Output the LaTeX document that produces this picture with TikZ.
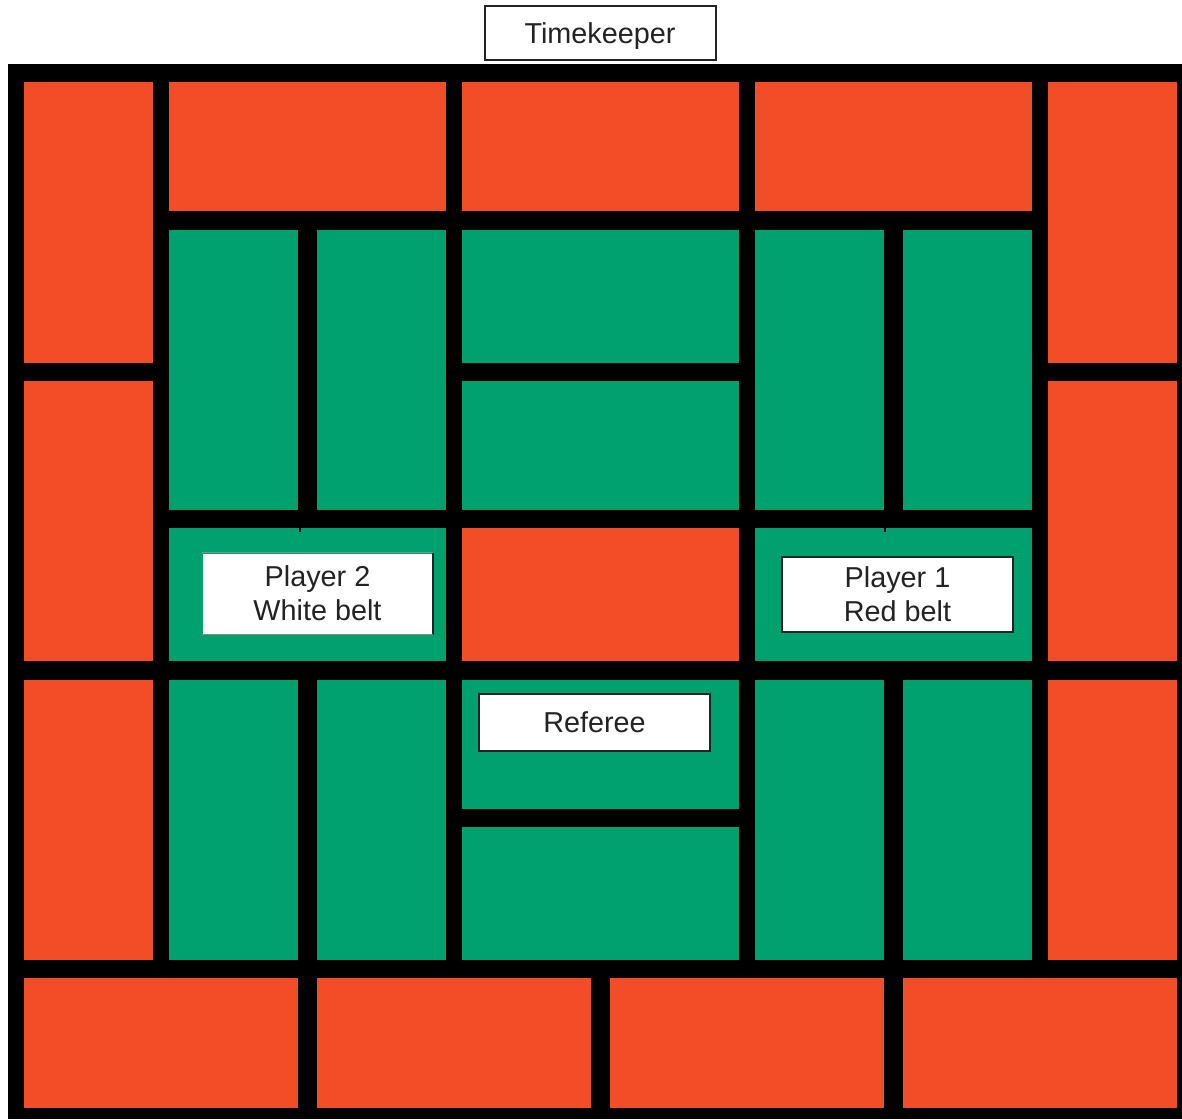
\documentclass[tikz,border=0pt]{standalone}
\usepackage{fontspec}
\setmainfont{Liberation Sans}

\definecolor{matred}{RGB}{241,78,39}
\definecolor{matgreen}{RGB}{0,161,110}
\definecolor{inkgray}{RGB}{35,35,35}

\begin{document}
\begin{tikzpicture}[x=0.5pt,y=-0.5pt,
    tag/.style={fill=white, draw=inkgray, line width=1pt, inner sep=0pt,
      align=center, text=inkgray, minimum width=115.5pt,
      font=\fontsize{14.4}{17}\selectfont}]
    \useasboundingbox (0,0) rectangle (1182,1119);
    % mat frame
    \fill[black] (8,64) rectangle (1182,1119);
    % outer ring of red tiles
    \foreach \a/\b/\c/\d in {24/82/153/363, 24/381/153/661, 24/680/153/960,
        169/82/446/211, 462/82/739/211, 755/82/1032/211,
        1048/82/1177/363, 1048/381/1177/661, 1048/680/1177/960,
        24/978/298/1108, 317/978/591/1108, 610/978/884/1108, 903/978/1177/1108,
        462/528/739/661}
        {\fill[matred] (\a,\b) rectangle (\c,\d);}
    % green contest area
    \foreach \a/\b/\c/\d in {169/230/298/510, 317/230/446/510,
        462/230/739/363, 462/381/739/510,
        755/230/884/510, 903/230/1032/510,
        169/528/446/661, 755/528/1032/661,
        169/680/298/960, 317/680/446/960,
        462/680/739/809, 462/827/739/960,
        755/680/884/960, 903/680/1032/960}
        {\fill[matgreen] (\a,\b) rectangle (\c,\d);}
    \foreach \a in {299,884} {\fill[black] (\a,527) rectangle (\a+2,532);}
    % officials and players
    \node[tag, minimum height=27pt, text depth=0pt] (time) at (600,33) {Timekeeper};
    \node[tag, minimum height=28.5pt] (ref) at (594.5,722.5) {Referee};
    \node[tag, minimum height=37.5pt] (red) at (897.5,594.5) {Player 1\\Red belt};
    \node[tag, draw=none, minimum width=114.5pt, minimum height=40pt] (white) at (317.5,593.5) {Player 2\\White belt};
    \draw[inkgray, line width=1pt] (white.north east) -- (white.south east);
    \draw[black!45, line width=0.8pt] (white.north west) -- (white.north east);
    \draw[black!45, line width=0.8pt] (white.south west) -- (white.south east);
\end{tikzpicture}
\end{document}
